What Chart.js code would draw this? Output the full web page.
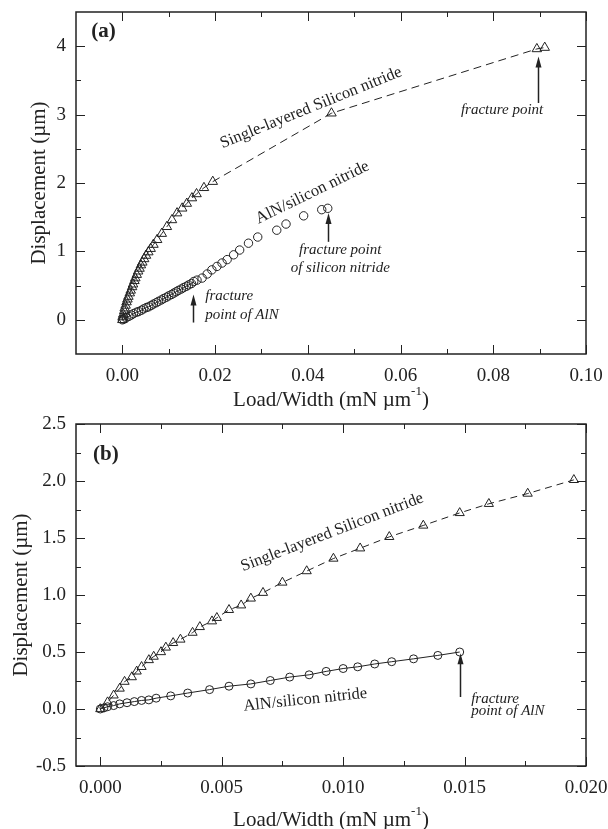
<!DOCTYPE html>
<html>
<head>
<meta charset="utf-8">
<script src="https://cdn.jsdelivr.net/npm/chart.js@4.4.1/dist/chart.umd.min.js"></script>
<style>
  html, body { margin: 0; padding: 0; background: #fff; }
  #wrap { position: relative; width: 608px; height: 829px; }
  #chart-a { position: absolute; left: 0; top: 0; }
  #chart-b { position: absolute; left: 0; top: 410px; }
</style>
</head>
<body>
<div id="wrap">
  <canvas id="chart-a" width="608" height="410"></canvas>
  <canvas id="chart-b" width="608" height="419"></canvas>
</div>
<script>
// panel (a) - single-layered silicon nitride (triangles)
const loadA_single = [0, 0.0001, 0.0002, 0.0004, 0.0005, 0.0007, 0.0009, 0.0011, 0.0013, 0.0016, 0.0018,
  0.0021, 0.0023, 0.0026, 0.0028, 0.0031, 0.0034, 0.0037, 0.0040, 0.0043, 0.0047, 0.0051, 0.0056,
  0.0061, 0.0067, 0.0075, 0.0085, 0.0096, 0.0107, 0.0118, 0.0129, 0.0139, 0.0150, 0.0160, 0.0176,
  0.0195, 0.0451, 0.0894, 0.0911];
const dispA_single = [0, 0.04, 0.08, 0.13, 0.17, 0.21, 0.26, 0.30, 0.34, 0.39, 0.43,
  0.48, 0.52, 0.57, 0.61, 0.66, 0.71, 0.75, 0.80, 0.84, 0.89, 0.94, 0.99,
  1.04, 1.10, 1.17, 1.26, 1.36, 1.46, 1.56, 1.63, 1.70, 1.78, 1.84, 1.93,
  2.02, 3.02, 3.96, 3.98];

// panel (a) - AlN/silicon nitride (circles)
const loadA_aln = [0, 0.0003, 0.0008, 0.0014, 0.0019, 0.0024, 0.0030, 0.0035, 0.0041, 0.0046, 0.0052,
  0.0057, 0.0062, 0.0067, 0.0073, 0.0078, 0.0084, 0.0089, 0.0095, 0.0100, 0.0106, 0.0111, 0.0116,
  0.0121, 0.0127, 0.0132, 0.0138, 0.0143, 0.0149, 0.0154, 0.0161, 0.0172, 0.0183, 0.0193, 0.0204,
  0.0215, 0.0226, 0.0240, 0.0253, 0.0272, 0.0292, 0.0333, 0.0353, 0.0391, 0.0430, 0.0443];
const dispA_aln = [0, 0.01, 0.03, 0.05, 0.07, 0.09, 0.11, 0.12, 0.14, 0.16, 0.18,
  0.19, 0.21, 0.23, 0.25, 0.27, 0.29, 0.31, 0.33, 0.35, 0.37, 0.39, 0.41,
  0.43, 0.45, 0.47, 0.49, 0.51, 0.53, 0.56, 0.58, 0.61, 0.67, 0.73, 0.78,
  0.83, 0.88, 0.95, 1.02, 1.12, 1.21, 1.31, 1.40, 1.52, 1.61, 1.63];

// panel (b) - single-layered silicon nitride (triangles)
const loadB_single = [0, 0.0003, 0.00055, 0.0008, 0.0010, 0.0013, 0.0015, 0.0017, 0.0020, 0.0022,
  0.0025, 0.0027, 0.0030, 0.0033, 0.0038, 0.0041, 0.0046, 0.0048, 0.0053, 0.0058, 0.0062, 0.0067,
  0.0075, 0.0085, 0.0096, 0.0107, 0.0119, 0.0133, 0.0148, 0.0160, 0.0176, 0.0195];
const dispB_single = [0, 0.06, 0.12, 0.18, 0.24, 0.28, 0.33, 0.37, 0.43, 0.46,
  0.50, 0.54, 0.58, 0.61, 0.67, 0.72, 0.77, 0.80, 0.87, 0.91, 0.97, 1.02,
  1.11, 1.21, 1.32, 1.41, 1.51, 1.61, 1.72, 1.80, 1.89, 2.01];

// panel (b) - AlN/silicon nitride (circles)
const loadB_aln = [0, 0.00015, 0.0003, 0.00055, 0.0008, 0.0011, 0.0014, 0.0017, 0.0020, 0.0023,
  0.0029, 0.0036, 0.0045, 0.0053, 0.0062, 0.0070, 0.0078, 0.0086, 0.0093, 0.0100, 0.0106,
  0.0113, 0.0120, 0.0129, 0.0139, 0.0148];
const dispB_aln = [0, 0.01, 0.02, 0.03, 0.045, 0.055, 0.065, 0.075, 0.08, 0.095,
  0.115, 0.14, 0.17, 0.20, 0.22, 0.25, 0.28, 0.30, 0.33, 0.355, 0.37,
  0.395, 0.415, 0.44, 0.47, 0.50];

// axis ticks
const xTicksA = [0, 0.02, 0.04, 0.06, 0.08, 0.10];
const xMinorA = [0.01, 0.03, 0.05, 0.07, 0.09];
const yTicksA = [0, 1, 2, 3, 4];
const yMinorA = [0.5, 1.5, 2.5, 3.5];
const xTicksB = [0, 0.005, 0.010, 0.015, 0.020];
const xMinorB = [0.0025, 0.0075, 0.0125, 0.0175];
const yTicksB = [-0.5, 0, 0.5, 1.0, 1.5, 2.0, 2.5];
const yMinorB = [-0.25, 0.25, 0.75, 1.25, 1.75, 2.25];

const ink = '#222';
const serif = '"Liberation Serif", "Times New Roman", serif';

function zip(xs, ys) {
  return xs.map((x, i) => ({ x: x, y: ys[i] }));
}

function drawArrow(ctx, x, y0, y1) {
  ctx.beginPath();
  ctx.moveTo(x, y0);
  ctx.lineTo(x, y1 + 8);
  ctx.lineWidth = 1.5;
  ctx.stroke();
  ctx.beginPath();
  ctx.moveTo(x, y1);
  ctx.lineTo(x - 3, y1 + 11);
  ctx.lineTo(x + 3, y1 + 11);
  ctx.closePath();
  ctx.fill();
}

const framePlugin = {
  id: 'frame',
  afterDraw(chart, args, opts) {
    const { ctx, chartArea: a } = chart;
    const xs = chart.scales.x, ys = chart.scales.y;
    ctx.save();
    ctx.strokeStyle = ink;
    ctx.fillStyle = ink;

    // box
    ctx.lineWidth = 1.5;
    ctx.strokeRect(a.left, a.top, a.right - a.left, a.bottom - a.top);

    // inward ticks on all sides
    ctx.lineWidth = 1;
    ctx.beginPath();
    const tx = (vals, len) => vals.forEach(v => {
      const p = Math.round(xs.getPixelForValue(v)) + 0.5;
      ctx.moveTo(p, a.bottom); ctx.lineTo(p, a.bottom - len);
      ctx.moveTo(p, a.top); ctx.lineTo(p, a.top + len);
    });
    const ty = (vals, len) => vals.forEach(v => {
      const p = Math.round(ys.getPixelForValue(v)) + 0.5;
      ctx.moveTo(a.left, p); ctx.lineTo(a.left + len, p);
      ctx.moveTo(a.right, p); ctx.lineTo(a.right - len, p);
    });
    tx(opts.xMajor, 9); tx(opts.xMinor, 5);
    ty(opts.yMajor, 9); ty(opts.yMinor, 5);
    ctx.stroke();

    // x title with superscript
    ctx.font = '21px ' + serif;
    ctx.textBaseline = 'middle';
    ctx.textAlign = 'left';
    const t1 = 'Load/Width (mN \u00b5m', sup = '-1', t2 = ')';
    const w1 = ctx.measureText(t1).width, w2 = ctx.measureText(t2).width;
    ctx.font = '13px ' + serif;
    const ws = ctx.measureText(sup).width;
    let sx = (a.left + a.right) / 2 - (w1 + ws + w2) / 2;
    ctx.font = '21px ' + serif;
    ctx.fillText(t1, sx, opts.xTitleY);
    ctx.font = '13px ' + serif;
    ctx.fillText(sup, sx + w1, opts.xTitleY - 8);
    ctx.font = '21px ' + serif;
    ctx.fillText(t2, sx + w1 + ws, opts.xTitleY);

    // y title
    ctx.save();
    ctx.translate(opts.yTitleX, (a.top + a.bottom) / 2);
    ctx.rotate(-Math.PI / 2);
    ctx.textAlign = 'center';
    ctx.fillText('Displacement (\u00b5m)', 0, 0);
    ctx.restore();

    // text notes placed in data coordinates
    opts.notes.forEach(n => {
      ctx.save();
      ctx.font = n.font + ' ' + serif;
      ctx.textAlign = n.align || 'center';
      ctx.textBaseline = 'middle';
      ctx.translate(xs.getPixelForValue(n.x), ys.getPixelForValue(n.y));
      ctx.rotate((n.rot || 0) * Math.PI / 180);
      ctx.fillText(n.text, 0, 0);
      ctx.restore();
    });

    // arrows
    opts.arrows.forEach(r => {
      drawArrow(ctx, Math.round(xs.getPixelForValue(r.x)) + 0.5,
        ys.getPixelForValue(r.from), ys.getPixelForValue(r.to));
    });
    ctx.restore();
  }
};

function makeChart(canvas, cfg) {
  return new Chart(canvas, {
    type: 'scatter',
    data: { datasets: cfg.datasets },
    plugins: [framePlugin],
    options: {
      responsive: false,
      animation: false,
      layout: { padding: { top: cfg.padTop, right: 22, left: 0, bottom: 0 } },
      plugins: {
        legend: { display: false },
        tooltip: { enabled: false },
        frame: cfg.frame
      },
      scales: {
        x: {
          type: 'linear', min: cfg.xMin, max: cfg.xMax,
          grid: { display: false, drawTicks: false },
          border: { display: false },
          afterBuildTicks: s => { s.ticks = cfg.xTicks.map(v => ({ value: v })); },
          afterFit: s => {
            s.height = cfg.xHeight;
            s.paddingLeft = 0; s.paddingRight = 0;
            s.paddingTop = 0; s.paddingBottom = 0;
          },
          ticks: {
            padding: 11, color: ink, maxRotation: 0, autoSkip: false,
            font: { family: serif, size: 19 },
            callback: v => v.toFixed(cfg.xDigits)
          }
        },
        y: {
          type: 'linear', min: cfg.yMin, max: cfg.yMax,
          grid: { display: false, drawTicks: false },
          border: { display: false },
          afterBuildTicks: s => { s.ticks = cfg.yTicks.map(v => ({ value: v })); },
          afterFit: s => {
            s.width = 76;
            s.paddingLeft = 0; s.paddingRight = 0;
            s.paddingTop = 0; s.paddingBottom = 0;
          },
          ticks: {
            padding: 10, color: ink, autoSkip: false,
            font: { family: serif, size: 19 },
            callback: v => v.toFixed(cfg.yDigits)
          }
        }
      }
    }
  });
}

const marker = {
  borderColor: ink, pointBorderColor: ink, pointBackgroundColor: 'rgba(0,0,0,0)',
  borderWidth: 1, pointBorderWidth: 1, pointHoverRadius: 4, showLine: true
};

makeChart(document.getElementById('chart-a'), {
  padTop: 12, xHeight: 56, xMin: -0.01, xMax: 0.10, yMin: -0.5, yMax: 4.5,
  xTicks: xTicksA, yTicks: yTicksA, xDigits: 2, yDigits: 0,
  datasets: [
    Object.assign({}, marker, {
      data: zip(loadA_single, dispA_single), pointStyle: 'triangle', pointRadius: 5.5,
      borderDash: [8, 5]
    }),
    Object.assign({}, marker, {
      data: zip(loadA_aln, dispA_aln), pointStyle: 'circle', pointRadius: 4.2,
      segment: { borderColor: c => c.p1.parsed.x > 0.0155 ? 'rgba(0,0,0,0)' : ink }
    })
  ],
  frame: {
    xMajor: xTicksA, xMinor: xMinorA, yMajor: yTicksA, yMinor: yMinorA,
    xTitleY: 400, yTitleX: 39,
    notes: [
      { text: '(a)', font: 'bold 21px', x: -0.0067, y: 4.21, align: 'left' },
      { text: 'Single-layered Silicon nitride', font: '16.5px', x: 0.0407, y: 3.10, rot: -22 },
      { text: 'AlN/silicon nitride', font: '16.5px', x: 0.0410, y: 1.86, rot: -26 },
      { text: 'fracture point', font: 'italic 15px', x: 0.0819, y: 3.07 },
      { text: 'fracture point', font: 'italic 15px', x: 0.0470, y: 1.02 },
      { text: 'of silicon nitride', font: 'italic 15px', x: 0.0470, y: 0.76 },
      { text: 'fracture', font: 'italic 15px', x: 0.0179, y: 0.34, align: 'left' },
      { text: 'point of AlN', font: 'italic 15px', x: 0.0179, y: 0.07, align: 'left' }
    ],
    arrows: [
      { x: 0.0897, from: 3.17, to: 3.85 },
      { x: 0.0443, from: 1.14, to: 1.56 },
      { x: 0.0152, from: -0.04, to: 0.37 }
    ]
  }
});

makeChart(document.getElementById('chart-b'), {
  padTop: 14, xHeight: 63, xMin: -0.001, xMax: 0.020, yMin: -0.5, yMax: 2.5,
  xTicks: xTicksB, yTicks: yTicksB, xDigits: 3, yDigits: 1,
  datasets: [
    Object.assign({}, marker, {
      data: zip(loadB_single, dispB_single), pointStyle: 'triangle', pointRadius: 5.3,
      borderDash: [7, 5]
    }),
    Object.assign({}, marker, {
      data: zip(loadB_aln, dispB_aln), pointStyle: 'circle', pointRadius: 4
    })
  ],
  frame: {
    xMajor: xTicksB, xMinor: xMinorB, yMajor: yTicksB, yMinor: yMinorB,
    xTitleY: 410, yTitleX: 21,
    notes: [
      { text: '(b)', font: 'bold 21px', x: -0.0003, y: 2.23, align: 'left' },
      { text: 'Single-layered Silicon nitride', font: '16.5px', x: 0.00955, y: 1.55, rot: -21 },
      { text: 'AlN/silicon nitride', font: '16.5px', x: 0.00844, y: 0.08, rot: -6 },
      { text: 'fracture', font: 'italic 15px', x: 0.01527, y: 0.09, align: 'left' },
      { text: 'point of AlN', font: 'italic 15px', x: 0.01527, y: -0.02, align: 'left' }
    ],
    arrows: [
      { x: 0.0148, from: 0.105, to: 0.49 }
    ]
  }
});
</script>
</body>
</html>
